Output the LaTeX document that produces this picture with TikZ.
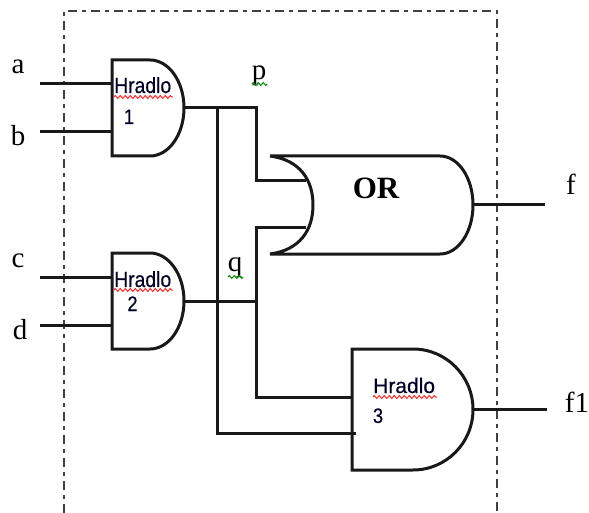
\documentclass[tikz,border=0pt]{standalone}
\usepackage{fontspec}
\setmainfont{Liberation Serif}
\newfontfamily\gatefont[FakeStretch=0.88,FakeBold=0.4]{Liberation Sans}
\newfontfamily\gatefontwide[FakeBold=0.4]{Liberation Sans}
\usetikzlibrary{decorations.pathmorphing}
\tikzset{
  wire/.style={line width=3pt,black!90,line join=miter},
  gateline/.style={line width=3pt,black!90,line join=miter},
  frameline/.style={line width=1.6pt,black!75,dash pattern=on 9pt off 5pt on 4pt off 5pt},
  sig/.style={inner sep=0pt,anchor=base,font=\fontsize{29}{29}\selectfont},
  orlabel/.style={inner sep=0pt,anchor=base,font=\bfseries\fontsize{31}{31}\selectfont},
  hradlo/.style={inner sep=0pt,anchor=base west,font=\gatefont\fontsize{22}{22}\selectfont,text=black!85!blue},
  hradlowide/.style={inner sep=0pt,anchor=base west,font=\gatefontwide\fontsize{21}{21}\selectfont,text=black!85!blue},
  gatenum/.style={inner sep=0pt,anchor=base,font=\gatefont\fontsize{21}{21}\selectfont,text=black!85!blue},
  redwave/.style={red!85,line width=1pt,decorate,decoration={zigzag,segment length=5pt,amplitude=1.4pt}},
  greenwave/.style={green!55!black,line width=1pt,decorate,decoration={zigzag,segment length=5pt,amplitude=1.4pt}}
}
\begin{document}
\begin{tikzpicture}[x=1pt,y=-1pt]
\useasboundingbox (0,0) rectangle (589,513);
% frame (open at the bottom)
\draw[frameline] (64,513) -- (64,11) -- (497,11) -- (497,513);
% pins
\coordinate (ain) at (40,84);   \coordinate (g1a) at (112,84);
\coordinate (bin) at (40,132);  \coordinate (g1b) at (112,132);
\coordinate (cin) at (40,277);  \coordinate (g2a) at (112,277);
\coordinate (din) at (40,325);  \coordinate (g2b) at (112,325);
\coordinate (g1o) at (184,108);
\coordinate (g2o) at (184,301);
\coordinate (or1) at (306,181);
\coordinate (or2) at (306,228);
\coordinate (oro) at (473,205);
\coordinate (fout) at (545,205);
\coordinate (g3a) at (352,397);
\coordinate (g3b) at (356,433);
\coordinate (g3o) at (473,409);
\coordinate (f1out) at (547,409);
\coordinate (pj) at (256,108);
\coordinate (qj) at (256,301);
\coordinate (sj) at (217,108);
% gates
\draw[gateline] (112,60) -- (150,60) arc[start angle=-90,end angle=90,x radius=34pt,y radius=-48pt] -- (112,156) -- cycle;
\draw[gateline] (112,253) -- (150,253) arc[start angle=-90,end angle=90,x radius=34pt,y radius=-48pt] -- (112,349) -- cycle;
\draw[gateline] (352,349) -- (413,349) arc[start angle=-90,end angle=90,x radius=60pt,y radius=-60.5pt] -- (352,470) -- cycle;
\draw[gateline] (270,156) -- (440,156) arc[start angle=-90,end angle=90,x radius=33pt,y radius=-49pt] -- (270,254)
   .. controls (300,250) and (313,230) .. (313,205)
   .. controls (313,180) and (300,160) .. (270,156);
% wires
\draw[wire] (ain) -- (g1a);
\draw[wire] (bin) -- (g1b);
\draw[wire] (cin) -- (g2a);
\draw[wire] (din) -- (g2b);
\draw[wire] (g1o) -- (pj) |- (or1);
\draw[wire] (g2o) -- (qj);
\draw[wire] (or2) -| (qj) |- (g3a);
\draw[wire] (sj) |- (g3b);
\draw[wire] (oro) -- (fout);
\draw[wire] (g3o) -- (f1out);
% labels
\node[sig] (la) at (18,74) {a};
\node[sig] (lb) at (18,146) {b};
\node[sig] (lc) at (18,267) {c};
\node[sig] (ld) at (20,339) {d};
\node[sig] (lp) at (259,80) {p};
\node[sig] (lq) at (235,272) {q};
\node[sig] (lf) at (571,195) {f};
\node[sig] (lf1) at (577,412) {f1};
\node[orlabel] (lor) at (376,199) {OR};
\node[hradlo] (h1) at (114,93) {Hradlo};
\node[gatenum] (n1) at (129,124) {1};
\node[hradlo] (h2) at (114,287) {Hradlo};
\node[gatenum] (n2) at (132.5,311) {2};
\node[hradlowide] (h3) at (373,393) {Hradlo};
\node[gatenum] (n3) at (378,423) {3};
% spell-check underlines
\draw[redwave] (114,97) -- (173,97);
\draw[redwave] (114,290) -- (173,290);
\draw[redwave] (373,397) -- (437,397);
\draw[greenwave] (252,84) -- (267,84);
\draw[greenwave] (228,277) -- (243,277);
\end{tikzpicture}
\end{document}
